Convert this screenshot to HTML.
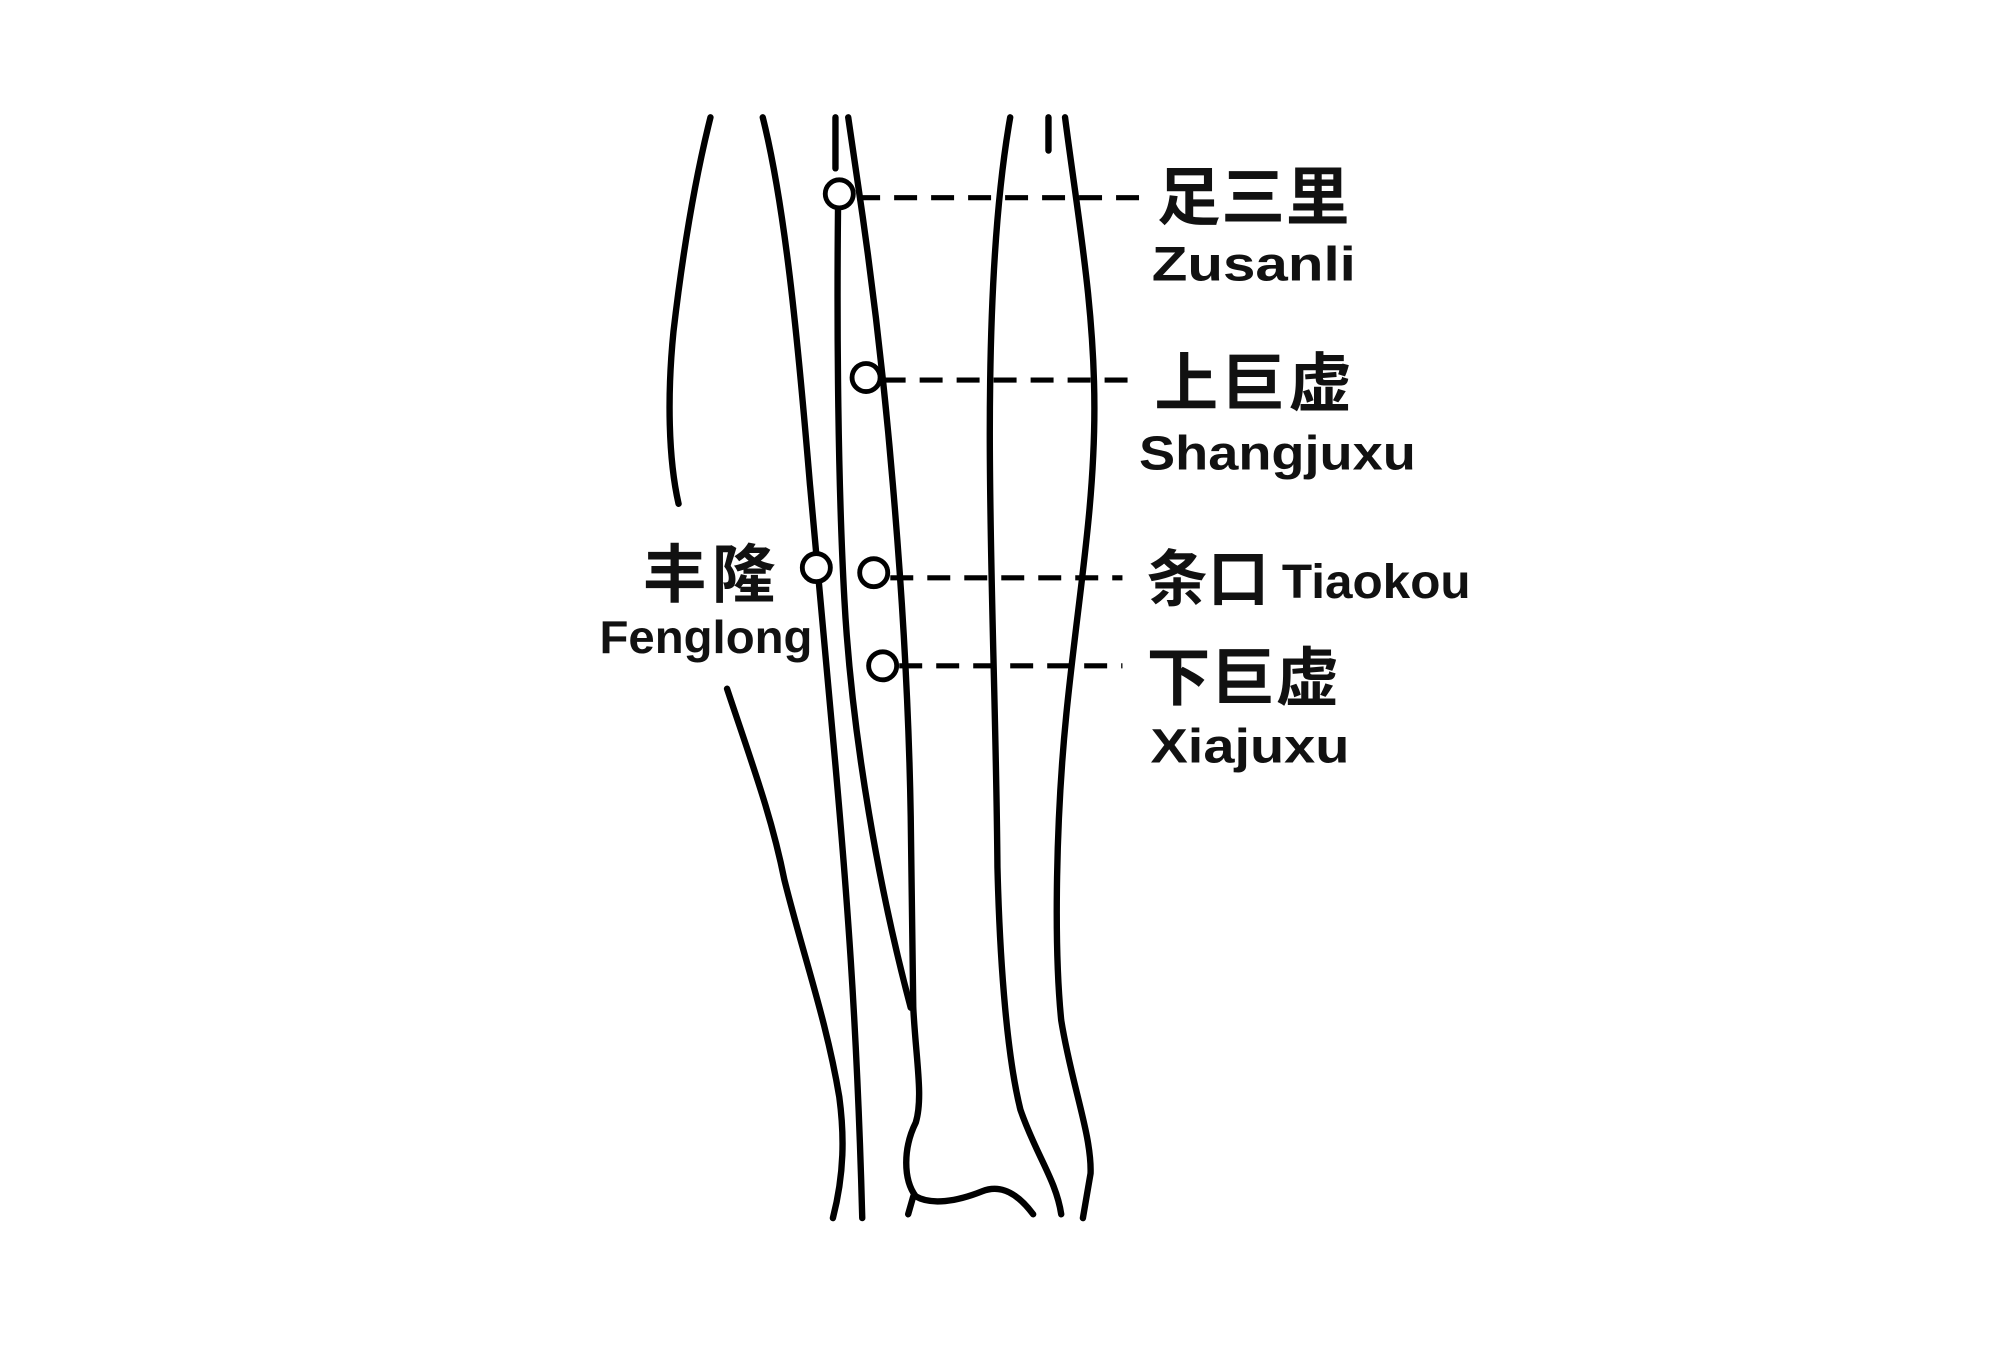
<!DOCTYPE html>
<html><head><meta charset="utf-8"><style>
html,body{margin:0;padding:0;background:#fff;}
svg{display:block;}
text{font-family:"Liberation Sans","Noto Sans CJK SC",sans-serif;fill:#111;font-weight:bold;}
.cjk{font-family:"Noto Sans CJK SC","WenQuanYi Zen Hei",sans-serif;font-weight:bold;}
</style></head><body>
<svg width="2000" height="1364" viewBox="0 0 1568 1069.4" preserveAspectRatio="none" xmlns="http://www.w3.org/2000/svg">
<g fill="none" stroke="#000" stroke-width="5" stroke-linecap="round" stroke-linejoin="round">
<path d="M557,92 C545,140 535,200 528,260 C523,310 524,360 532,395"/>
<path d="M570,540 C590,600 605,640 615,690 C630,750 648,800 658,860 C662,890 662,920 653,955"/>
<path d="M598,92 C615,160 625,260 635,380 C642,450 648,520 655,600 C663,690 672,800 676,955"/>
<path d="M655,92 L655,132"/>
<path d="M657,164 C656,260 657,380 662,470 C668,580 690,700 714,790"/>
<path d="M665,92 L672,140 Q690,260 700,380 Q712,520 714,640 L716,790 C718,830 724,860 718,880 C708,900 708,925 718,938 C730,945 750,942 770,934 C785,928 798,936 810,952"/>
<path d="M716,938 L712,952"/>
<path d="M792,92 C780,160 776,250 776,340 C776,450 781,560 782,680 C784,760 790,830 800,870 C812,905 828,925 832,952"/>
<path d="M822,92 L822,118"/>
<path d="M835,92 C845,170 858,240 858,320 C858,400 845,470 836,560 C828,640 826,740 832,800 C840,850 856,890 855,920 L849,955"/>
</g>
<g fill="#fff" stroke="#000" stroke-width="3.8">
<circle cx="658" cy="152" r="11"/>
<circle cx="679" cy="296" r="11"/>
<circle cx="640" cy="445" r="11"/>
<circle cx="685" cy="449" r="11"/>
<circle cx="692" cy="522" r="11"/>
</g>
<g stroke="#000" stroke-width="4" stroke-dasharray="18,11">
<line x1="672" y1="155" x2="895" y2="155"/>
<line x1="692" y1="298" x2="890" y2="298"/>
<line x1="698" y1="453" x2="880" y2="453"/>
<line x1="705" y1="522" x2="880" y2="522"/>
</g>
<text class="cjk" x="907" y="172" font-size="50" textLength="151" lengthAdjust="spacing">足三里</text>
<text x="903" y="220" font-size="38" textLength="160" lengthAdjust="spacingAndGlyphs">Zusanli</text>
<text class="cjk" x="905" y="318" font-size="50" textLength="155" lengthAdjust="spacing">上巨虚</text>
<text x="893" y="368" font-size="38" textLength="217" lengthAdjust="spacingAndGlyphs">Shangjuxu</text>
<text class="cjk" x="899" y="471" font-size="48" textLength="96" lengthAdjust="spacing">条口</text>
<text x="1005" y="469" font-size="38" textLength="148" lengthAdjust="spacingAndGlyphs">Tiaokou</text>
<text class="cjk" x="899" y="549" font-size="50" textLength="151" lengthAdjust="spacing">下巨虚</text>
<text x="902" y="598" font-size="38" textLength="156" lengthAdjust="spacingAndGlyphs">Xiajuxu</text>
<text class="cjk" x="504" y="468" font-size="50" textLength="104" lengthAdjust="spacing">丰隆</text>
<text x="470" y="512" font-size="36" textLength="167" lengthAdjust="spacingAndGlyphs">Fenglong</text>
</svg>
</body></html>
